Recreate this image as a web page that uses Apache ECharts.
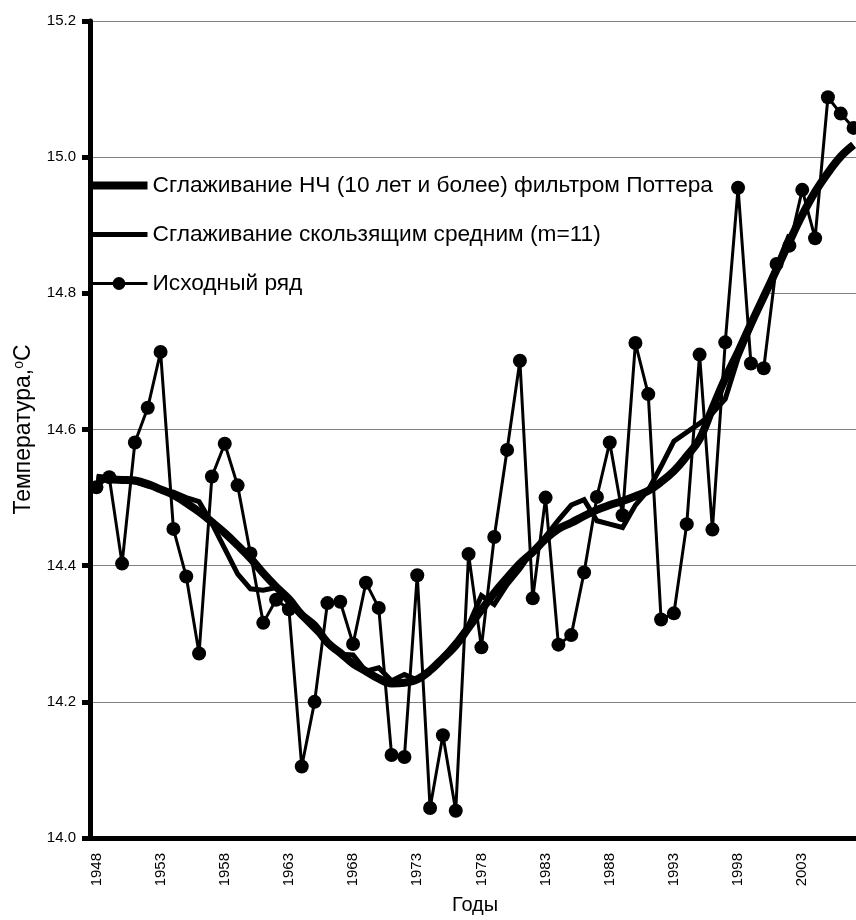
<!DOCTYPE html>
<html>
<head>
<meta charset="utf-8">
<script src="https://cdn.jsdelivr.net/npm/echarts@6/dist/echarts.min.js"></script>
<style>
  html, body { margin: 0; padding: 0; background: #fff; overflow: hidden; }
  /* график шире окна: справа он обрезан, как в оригинале */
  #chart { width: 860px; height: 920px; }
</style>
</head>
<body>
<div id="chart"></div>
<script>
// годы (категории оси X)
const years = ['1948', '1949', '1950', '1951', '1952', '1953', '1954', '1955', '1956', '1957',
  '1958', '1959', '1960', '1961', '1962', '1963', '1964', '1965', '1966', '1967',
  '1968', '1969', '1970', '1971', '1972', '1973', '1974', '1975', '1976', '1977',
  '1978', '1979', '1980', '1981', '1982', '1983', '1984', '1985', '1986', '1987',
  '1988', '1989', '1990', '1991', '1992', '1993', '1994', '1995', '1996', '1997',
  '1998', '1999', '2000', '2001', '2002', '2003', '2004', '2005', '2006', '2007']

// исходный ряд
const rawSeries = [14.515, 14.530, 14.403, 14.581, 14.632, 14.714, 14.454, 14.384, 14.271, 14.531,
  14.579, 14.518, 14.418, 14.316, 14.350, 14.336, 14.105, 14.200, 14.345, 14.347,
  14.285, 14.375, 14.338, 14.122, 14.119, 14.386, 14.044, 14.151, 14.040, 14.417,
  14.280, 14.442, 14.570, 14.701, 14.352, 14.500, 14.284, 14.298, 14.390, 14.501,
  14.581, 14.474, 14.727, 14.652, 14.321, 14.330, 14.461, 14.710, 14.453, 14.728,
  14.955, 14.697, 14.690, 14.843, 14.870, 14.952, 14.881, 15.088, 15.064, 15.043]

// скользящее среднее (m=11), последние годы не считаются
const movingAvg = [14.530, 14.528, 14.526, 14.523, 14.517, 14.512, 14.508, 14.500, 14.494, 14.462,
  14.425, 14.388, 14.366, 14.364, 14.368, 14.345, 14.325, 14.306, 14.287, 14.270,
  14.269, 14.245, 14.250, 14.231, 14.240, 14.232, 14.246, 14.266, 14.288, 14.313,
  14.356, 14.343, 14.372, 14.395, 14.422, 14.443, 14.467, 14.489, 14.497, 14.466,
  14.461, 14.456, 14.489, 14.511, 14.546, 14.583, 14.596, 14.609, 14.624, 14.645,
  14.705, 14.750, 14.797, 14.840, 14.886, null, null, null, null, null]

// НЧ фильтр Поттера
const potter = [14.529, 14.527, 14.526, 14.525, 14.520, 14.512, 14.504, 14.492, 14.479, 14.464,
  14.448, 14.430, 14.411, 14.389, 14.369, 14.351, 14.328, 14.312, 14.287, 14.272,
  14.256, 14.245, 14.234, 14.227, 14.228, 14.233, 14.246, 14.264, 14.283, 14.309,
  14.335, 14.360, 14.382, 14.403, 14.420, 14.439, 14.454, 14.463, 14.473, 14.482,
  14.489, 14.495, 14.502, 14.510, 14.523, 14.539, 14.561, 14.586, 14.631, 14.675,
  14.714, 14.755, 14.795, 14.835, 14.876, 14.915, 14.949, 14.977, 15.001, 15.018]

const names = [
  'Сглаживание НЧ (10 лет и более) фильтром Поттера',
  'Сглаживание скользящим средним (m=11)',
  'Исходный ряд'
]

const font = "'Liberation Sans', Arial, sans-serif"
const chart = echarts.init(document.getElementById('chart'))

const option = {
  backgroundColor: '#fff',
  animation: false,
  textStyle: { fontFamily: font, color: '#000' },
  grid: {
    left: 90,
    top: 21,
    bottom: 79,
    right: 0,
    containLabel: false
  },
  // белая подложка легенды прячет сетку, но не линии
  graphic: [
    {
      type: 'rect',
      z: 1,
      silent: true,
      shape: { x: 93, y: 166, width: 677, height: 136 },
      style: { fill: '#fff' }
    }
  ],
  legend: {
    orient: 'vertical',
    left: 89,
    top: 174,
    padding: 0,
    itemWidth: 57,
    itemHeight: 16,
    itemGap: 26,
    selectedMode: false,
    textStyle: { fontSize: 22.7, color: '#000', fontFamily: font },
    data: [
      { name: names[0], icon: 'path://M0,0H57V8H0Z', itemStyle: { color: '#000' } },
      { name: names[1], icon: 'path://M0,0H57V5H0Z', itemStyle: { color: '#000' } },
      { name: names[2], lineStyle: { width: 3 } }
    ]
  },
  xAxis: {
    type: 'category',
    data: years,
    boundaryGap: true,
    name: 'Годы',
    nameLocation: 'middle',
    nameGap: 57,
    nameTextStyle: { fontSize: 20, color: '#000' },
    axisLine: { lineStyle: { color: '#000', width: 5 } },
    axisTick: { interval: 4, length: 8, lineStyle: { color: '#000', width: 5 } },
    axisLabel: { interval: 4, rotate: 90, margin: 15, fontSize: 15, color: '#000' },
    splitLine: { show: false }
  },
  yAxis: {
    type: 'value',
    min: 14,
    max: 15.2,
    interval: 0.2,
    name: 'Температура,{sup|o}C',
    nameLocation: 'middle',
    nameGap: 55,
    nameTextStyle: {
      fontSize: 23,
      color: '#000',
      rich: { sup: { fontSize: 14, verticalAlign: 'top', padding: [0, 0, 9, 0] } }
    },
    axisLine: { show: true, lineStyle: { color: '#000', width: 5 } },
    axisTick: { show: true, length: 8, lineStyle: { color: '#000', width: 5 } },
    axisLabel: { margin: 14, fontSize: 15, color: '#000', formatter: (v) => v.toFixed(1) },
    splitLine: { show: true, lineStyle: { color: '#808080', width: 1 } }
  },
  series: [
    {
      name: names[0],
      type: 'line',
      data: potter,
      smooth: 0.4,
      symbol: 'none',
      lineStyle: { color: '#000', width: 8 },
      itemStyle: { color: '#000' }
    },
    {
      name: names[1],
      type: 'line',
      data: movingAvg,
      symbol: 'none',
      lineStyle: { color: '#000', width: 5, join: 'miter' },
      itemStyle: { color: '#000' }
    },
    {
      name: names[2],
      type: 'line',
      data: rawSeries,
      symbol: 'circle',
      symbolSize: 14,
      showAllSymbol: true,
      lineStyle: { color: '#000', width: 3 },
      itemStyle: { color: '#000' }
    }
  ]
}

chart.setOption(option)
</script>
</body>
</html>
